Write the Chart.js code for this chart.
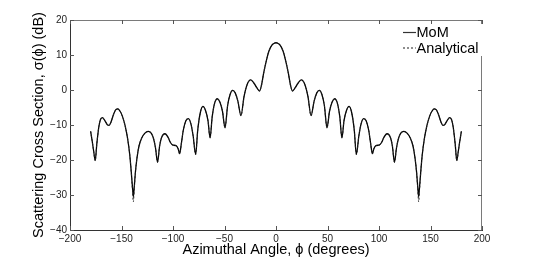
<!DOCTYPE html>
<html>
<head>
<meta charset="utf-8">
<script src="https://cdn.jsdelivr.net/npm/chart.js@4.4.1/dist/chart.umd.min.js"></script>
<style>
  html, body { margin: 0; padding: 0; background: #fff; }
  #wrap { width: 533px; height: 259px; }
</style>
</head>
<body>
<div id="wrap"><canvas id="c" width="533" height="259"></canvas></div>
<script>
// Azimuthal angle (degrees)
const phi = [
  -180, -178.5, -177, -175.5, -174, -172, -170.5, -168.6, -166, -163.5, -162, -160, -157.5, -155.5, -153.7,
  -151.5, -149, -146.5, -144, -142, -140.5, -139.3, -138.5, -137.7, -136.5, -135, -133, -130.5, -127.5, -124,
  -121, -119, -117, -115, -113, -111, -107.8, -105, -102.5, -100.5, -97, -95, -93.5, -92, -90,
  -87.5, -85, -82.5, -80.5, -78, -76, -73.5, -71, -68.5, -66, -64, -62, -59.5, -57, -54.5,
  -52, -49.5, -47, -44.5, -42, -39.5, -37, -34, -31, -28, -24.6, -21.5, -18.5, -16, -14,
  -12, -9, -7, -4, -2, 0,
  2, 4, 7, 9, 12, 14, 16, 18.5, 21.5, 24.6, 28, 31, 34, 37, 39.5,
  42, 44.5, 47, 49.5, 52, 54.5, 57, 59.5, 62, 64, 66, 68.5, 71, 73.5, 76,
  78, 80.5, 82.5, 85, 87.5, 90, 92, 93.5, 95, 97, 100.5, 102.5, 105, 107.8, 111,
  113, 115, 117, 119, 121, 124, 127.5, 130.5, 133, 135, 136.5, 137.7, 138.5, 139.3, 140.5,
  142, 144, 146.5, 149, 151.5, 153.7, 155.5, 157.5, 160, 162, 163.5, 166, 168.6, 170.5, 172,
  174, 175.5, 177, 178.5, 180
];

// MoM scattering cross section (dB)
const momDB = [
  -11.8, -14.5, -17.5, -20.1, -15.5, -10.5, -8.5, -7.9, -8.8, -10.0, -10.1, -9.0, -6.8, -5.6, -5.4,
  -6.0, -7.6, -10.2, -14.0, -18.5, -23.5, -28.0, -30.5, -28.0, -23.5, -19.5, -16.0, -13.8, -12.4, -11.8,
  -12.4, -13.8, -16.5, -20.6, -16.0, -13.5, -12.5, -13.4, -15.0, -15.7, -15.9, -16.8, -18.2, -15.5, -11.5,
  -8.8, -8.2, -9.8, -13.0, -18.4, -11.5, -6.5, -4.7, -5.8, -8.8, -13.7, -7.8, -3.7, -2.5, -3.4,
  -6.0, -10.8, -4.5, -1.2, -0.1, -0.9, -3.2, -7.3, -1.8, 1.6, 2.9, 2.0, 0.6, -0.3, 1.5,
  4.8, 8.8, 11.0, 12.8, 13.3, 13.5,
  13.3, 12.8, 11.0, 8.8, 4.8, 1.5, -0.3, 0.6, 2.0, 2.9, 1.6, -1.8, -7.3, -3.2, -0.9,
  -0.1, -1.2, -4.5, -10.8, -6.0, -3.4, -2.5, -3.7, -7.8, -13.7, -8.8, -5.8, -4.7, -6.5, -11.5,
  -18.4, -13.0, -9.8, -8.2, -8.8, -11.5, -15.5, -18.2, -16.8, -15.9, -15.7, -15.0, -13.4, -12.5, -13.5,
  -16.0, -20.6, -16.5, -13.8, -12.4, -11.8, -12.4, -13.8, -16.0, -19.5, -23.5, -28.0, -30.5, -28.0, -23.5,
  -18.5, -14.0, -10.2, -7.6, -6.0, -5.4, -5.6, -6.8, -9.0, -10.1, -10.0, -8.8, -7.9, -8.5, -10.5,
  -15.5, -20.1, -17.5, -14.5, -11.8
];

// Analytical scattering cross section (dB)
const analyticalDB = [
  -11.8, -14.5, -17.5, -20.3, -15.5, -10.5, -8.5, -7.9, -8.8, -10.0, -10.1, -9.0, -6.8, -5.6, -5.4,
  -6.0, -7.6, -10.2, -14.0, -18.5, -23.6, -28.8, -32.0, -28.6, -23.6, -19.5, -16.0, -13.8, -12.4, -11.8,
  -12.4, -13.8, -16.5, -20.7, -16.0, -13.5, -12.5, -13.4, -15.0, -15.7, -15.9, -16.8, -18.3, -15.5, -11.5,
  -8.8, -8.2, -9.8, -13.0, -18.5, -11.5, -6.5, -4.7, -5.8, -8.8, -13.8, -7.8, -3.7, -2.5, -3.4,
  -6.0, -10.9, -4.5, -1.2, -0.1, -0.9, -3.2, -7.4, -1.8, 1.6, 2.9, 2.0, 0.6, -0.3, 1.5,
  4.8, 8.8, 11.0, 12.8, 13.3, 13.5,
  13.3, 12.8, 11.0, 8.8, 4.8, 1.5, -0.3, 0.6, 2.0, 2.9, 1.6, -1.8, -7.4, -3.2, -0.9,
  -0.1, -1.2, -4.5, -10.9, -6.0, -3.4, -2.5, -3.7, -7.8, -13.8, -8.8, -5.8, -4.7, -6.5, -11.5,
  -18.5, -13.0, -9.8, -8.2, -8.8, -11.5, -15.5, -18.3, -16.8, -15.9, -15.7, -15.0, -13.4, -12.5, -13.5,
  -16.0, -20.7, -16.5, -13.8, -12.4, -11.8, -12.4, -13.8, -16.0, -19.5, -23.6, -28.6, -32.0, -28.8, -23.6,
  -18.5, -14.0, -10.2, -7.6, -6.0, -5.4, -5.6, -6.8, -9.0, -10.1, -10.0, -8.8, -7.9, -8.5, -10.5,
  -15.5, -20.3, -17.5, -14.5, -11.8
];

const seriesLabels = ['MoM', 'Analytical'];
const xTitle = 'Azimuthal Angle, \u03D5 (degrees)';
const yTitle = 'Scattering Cross Section, \u03C3(\u03D5) (dB)';

const FONT = '"Liberation Sans", Arial, Helvetica, sans-serif';
const minus = v => String(v).replace('-', '\u2212');

const framePlugin = {
  id: 'frame',
  afterDraw(chart) {
    const {ctx, chartArea: a, scales} = chart;
    ctx.save();
    // top and right borders
    ctx.strokeStyle = '#7a7a7a';
    ctx.lineWidth = 1;
    ctx.beginPath();
    ctx.moveTo(a.left, a.top + 0.5); ctx.lineTo(a.right, a.top + 0.5);
    ctx.moveTo(a.right - 0.5, a.top); ctx.lineTo(a.right - 0.5, a.bottom);
    ctx.stroke();
    // inward tick marks
    ctx.strokeStyle = '#555';
    ctx.beginPath();
    const tl = 4;
    scales.x.ticks.forEach(t => {
      const px = Math.round(scales.x.getPixelForValue(t.value)) + 0.5;
      ctx.moveTo(px, a.bottom); ctx.lineTo(px, a.bottom - tl);
      ctx.moveTo(px, a.top); ctx.lineTo(px, a.top + tl);
    });
    scales.y.ticks.forEach(t => {
      const py = Math.round(scales.y.getPixelForValue(t.value)) + 0.5;
      ctx.moveTo(a.left, py); ctx.lineTo(a.left + tl, py);
      ctx.moveTo(a.right, py); ctx.lineTo(a.right - tl, py);
    });
    ctx.stroke();

    // legend
    const lx = 398, ly = 24, lw = 86, lh = 32;
    ctx.fillStyle = '#fff';
    ctx.fillRect(lx, ly, lw, lh);
    const rows = [
      {label: chart.data.datasets[0].label, y: 32.5, dash: []},
      {label: chart.data.datasets[1].label, y: 48, dash: [2, 2]}
    ];
    rows.forEach(r => {
      ctx.strokeStyle = r.dash.length ? '#444' : '#333';
      ctx.lineWidth = 1.2;
      ctx.setLineDash(r.dash);
      ctx.beginPath();
      ctx.moveTo(403, r.y); ctx.lineTo(416, r.y);
      ctx.stroke();
      ctx.setLineDash([]);
      ctx.fillStyle = '#000';
      ctx.font = '14.5px ' + FONT;
      ctx.textBaseline = 'middle';
      ctx.textAlign = 'left';
      ctx.fillText(r.label, 416.5, r.y + 0.5);
    });
    ctx.restore();
  }
};

new Chart(document.getElementById('c'), {
  type: 'line',
  data: {
    datasets: [
      {
        label: seriesLabels[0],
        data: phi.map((p, i) => ({x: p, y: momDB[i]})),
        borderColor: '#000',
        borderWidth: 1.3,
        pointRadius: 0,
        fill: false,
        cubicInterpolationMode: 'monotone',
        order: 2
      },
      {
        label: seriesLabels[1],
        data: phi.map((p, i) => ({x: p, y: analyticalDB[i]})),
        borderColor: '#222',
        borderWidth: 1,
        borderDash: [2, 2],
        pointRadius: 0,
        fill: false,
        cubicInterpolationMode: 'monotone',
        order: 1
      }
    ]
  },
  options: {
    responsive: false,
    animation: false,
    devicePixelRatio: 1,
    layout: { padding: { left: 0, right: 51, top: 20, bottom: 0 } },
    plugins: {
      legend: { display: false },
      tooltip: { enabled: false },
      title: { display: false }
    },
    scales: {
      x: {
        type: 'linear',
        min: -200, max: 200,
        afterFit(s) { s.height = 29; },
        grid: { display: false, drawTicks: false },
        border: { display: true, color: '#333', width: 1 },
        ticks: {
          stepSize: 50, padding: 3, maxRotation: 0, autoSkip: false,
          color: '#222', font: { family: FONT, size: 10 },
          callback: v => minus(v)
        },
        title: {
          display: true, text: xTitle, color: '#000',
          font: { family: FONT, size: 14.5 },
          padding: { top: 0, bottom: 0 }
        }
      },
      y: {
        type: 'linear',
        min: -40, max: 20,
        afterFit(s) { s.width = 70; },
        grid: { display: false, drawTicks: false },
        border: { display: true, color: '#333', width: 1 },
        ticks: {
          stepSize: 10, padding: 3, autoSkip: false,
          color: '#222', font: { family: FONT, size: 10 },
          callback: v => minus(v)
        },
        title: {
          display: true, text: yTitle, color: '#000',
          font: { family: FONT, size: 14.5 },
          padding: { top: 30, bottom: 0 }
        }
      }
    }
  },
  plugins: [framePlugin]
});
</script>
</body>
</html>
